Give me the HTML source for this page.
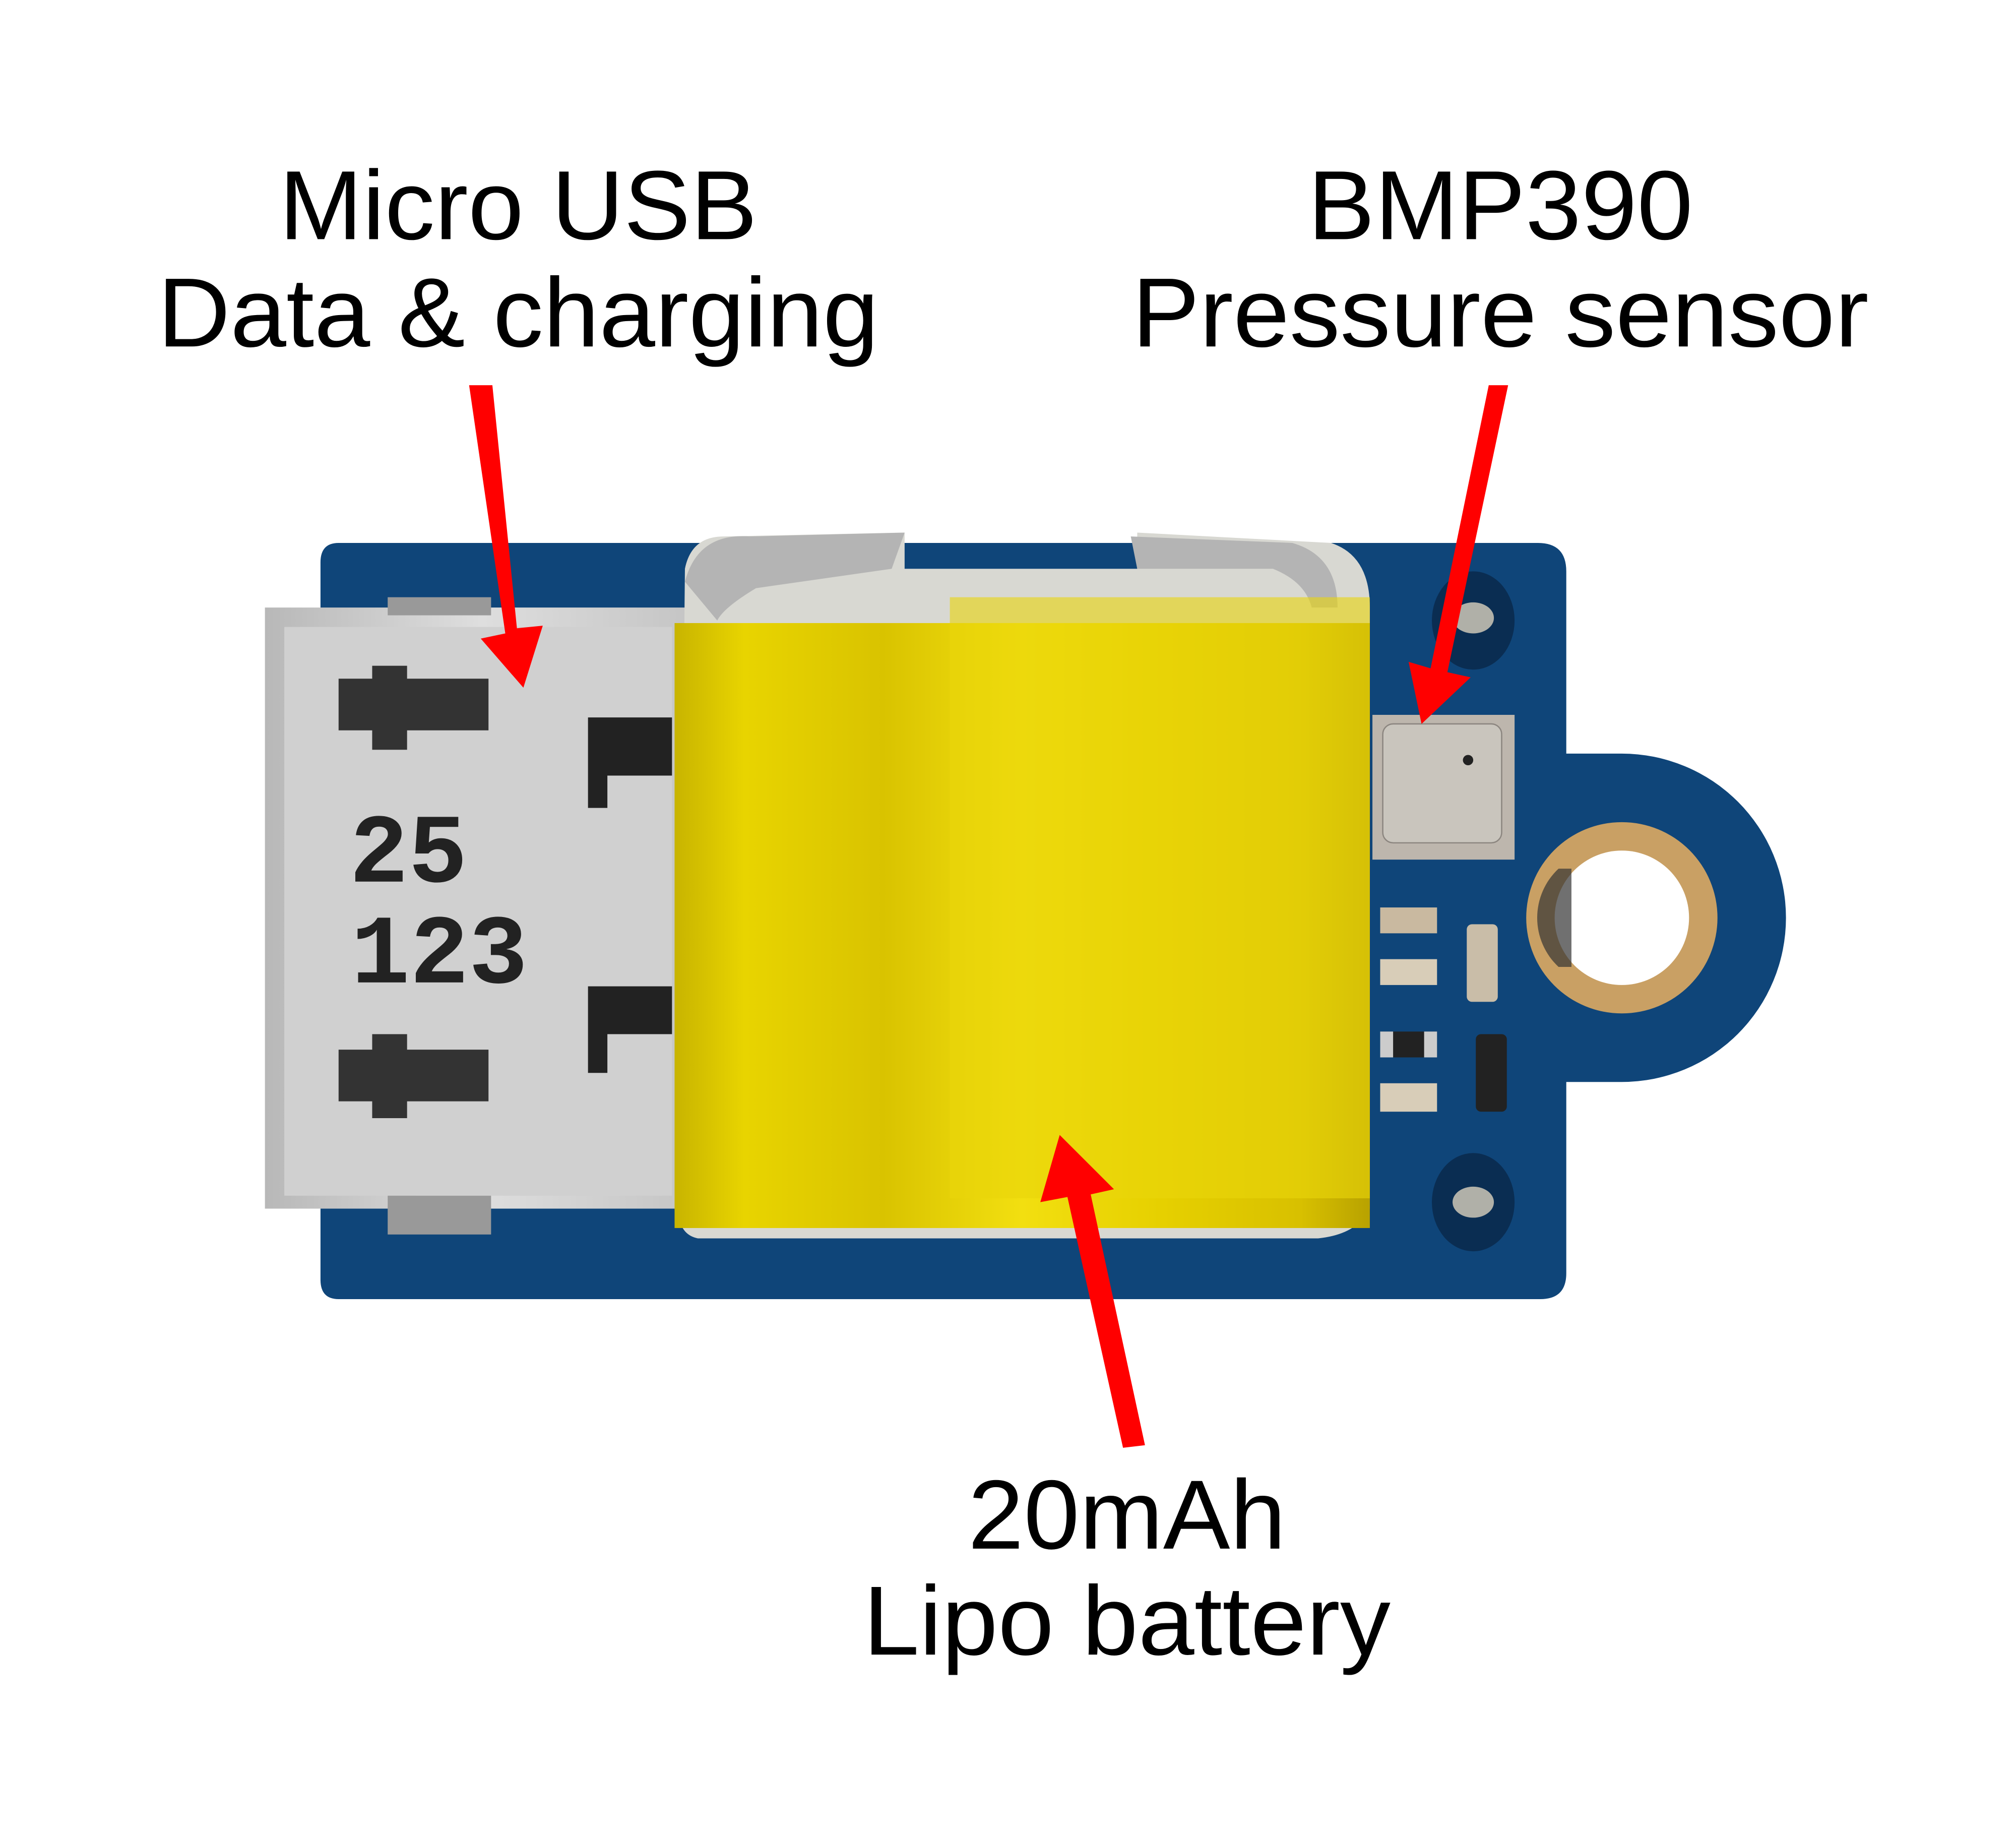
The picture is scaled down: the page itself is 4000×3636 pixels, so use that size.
<!DOCTYPE html>
<html><head><style>html,body{margin:0;padding:0;background:#fff}svg{display:block}</style></head>
<body>
<svg width="4000" height="3636" viewBox="0 0 1560 1418" xmlns="http://www.w3.org/2000/svg">
<defs>
<linearGradient id="bat" x1="0" x2="1" y1="0" y2="0">
<stop offset="0" stop-color="#c8b400"/><stop offset="0.1" stop-color="#e8d400"/><stop offset="0.3" stop-color="#d9c300"/><stop offset="0.5" stop-color="#f2df10"/><stop offset="0.7" stop-color="#e6d000"/><stop offset="0.9" stop-color="#d8c000"/><stop offset="1" stop-color="#b8a200"/>
</linearGradient>
<linearGradient id="usb" x1="0" x2="1"><stop offset="0" stop-color="#b8b8b8"/><stop offset="0.5" stop-color="#dedede"/><stop offset="1" stop-color="#c4c4c4"/></linearGradient>
</defs>
<rect width="1560" height="1418" fill="#fff"/>
<g font-family="Liberation Sans, sans-serif" font-size="76" fill="#000" text-anchor="middle">
<text x="401" y="185" textLength="370" lengthAdjust="spacingAndGlyphs">Micro USB</text>
<text x="401" y="268" textLength="558" lengthAdjust="spacingAndGlyphs">Data &amp; charging</text>
<text x="1161" y="185" textLength="298" lengthAdjust="spacingAndGlyphs">BMP390</text>
<text x="1161" y="268" textLength="570" lengthAdjust="spacingAndGlyphs">Pressure sensor</text>
<text x="872" y="1198" textLength="246" lengthAdjust="spacingAndGlyphs">20mAh</text>
<text x="872" y="1280" textLength="408" lengthAdjust="spacingAndGlyphs">Lipo battery</text>
</g>
<!-- PCB -->
<path d="M262 420 H1190 Q1212 420 1212 442 V583 H1255 A127 127 0 0 1 1255 837 H1212 V985 Q1212 1005 1192 1005 H262 Q248 1005 248 990 V435 Q248 420 262 420 Z" fill="#0f4579"/>
<circle cx="1255" cy="710" r="74" fill="#c9a064"/>
<circle cx="1255" cy="710" r="52" fill="#fff"/>
<path d="M1206 672 A52 52 0 0 0 1206 748 L1216 748 L1216 672 Z" fill="#333" opacity="0.7"/>
<ellipse cx="1140" cy="480" rx="32" ry="38" fill="#0a2d52"/><ellipse cx="1140" cy="478" rx="16" ry="12" fill="#b0b0a8"/>
<ellipse cx="1140" cy="930" rx="32" ry="38" fill="#0a2d52"/><ellipse cx="1140" cy="930" rx="16" ry="12" fill="#b0b0a8"/>
<rect x="1062" y="553" width="110" height="112" fill="#bdb6ad"/>
<rect x="1070" y="560" width="92" height="92" rx="8" fill="#c9c5bd" stroke="#8c8680"/>
<circle cx="1136" cy="588" r="4" fill="#222"/>
<rect x="1068" y="702" width="44" height="20" fill="#c9b9a0"/>
<rect x="1068" y="742" width="44" height="20" fill="#d8cdb8"/>
<rect x="1068" y="798" width="44" height="20" fill="#222"/><rect x="1068" y="798" width="10" height="20" fill="#ccc"/><rect x="1102" y="798" width="10" height="20" fill="#ccc"/>
<rect x="1068" y="838" width="44" height="22" fill="#d8cdb8"/>
<rect x="1135" y="715" width="24" height="60" rx="4" fill="#c9bda8"/>
<rect x="1142" y="800" width="24" height="60" rx="4" fill="#222"/>
<!-- USB -->
<path d="M205 470 L540 470 L540 935 L205 935 Z" fill="url(#usb)"/>
<rect x="220" y="485" width="300" height="440" fill="#d0d0d0"/>
<rect x="300" y="462" width="80" height="14" fill="#999"/>
<rect x="300" y="925" width="80" height="30" fill="#999"/>
<path d="M262 525 H378 V565 H262 Z M288 515 H315 V580 H288 Z" fill="#333"/>
<path d="M262 812 H378 V852 H262 Z M288 800 H315 V865 H288 Z" fill="#333"/>
<path d="M455 555 H520 V600 H470 V625 H455 Z" fill="#222"/>
<path d="M455 763 H520 V800 H470 V830 H455 Z" fill="#222"/>
<text x="316" y="682" font-family="Liberation Mono, monospace" font-size="76" font-weight="bold" fill="#222" text-anchor="middle">25</text>
<text x="340" y="760" font-family="Liberation Mono, monospace" font-size="76" font-weight="bold" fill="#222" text-anchor="middle">123</text>
<!-- battery -->
<path d="M530 440 Q535 415 560 415 L700 412 L700 440 L880 440 L880 412 L1030 420 Q1060 430 1060 470 L1060 935 Q1050 955 1020 958 L540 958 Q525 955 525 935 Z" fill="#d8d8d2"/>
<path d="M530 450 Q540 412 580 415 L700 412 L690 440 L585 455 Q560 470 555 480 Z" fill="#b4b4b4"/>
<path d="M875 415 L1000 420 Q1035 430 1035 470 L1015 470 Q1010 450 985 440 L880 440 Z" fill="#b4b4b4"/>
<rect x="522" y="482" width="538" height="468" fill="url(#bat)"/>
<rect x="735" y="462" width="325" height="465" fill="#e9d60a" opacity="0.6"/>
<!-- arrows -->
<g fill="#f00">
<path d="M363 298 L381 298 L400 486 L420 484 L405 532 L372 494 L391 490 Z"/>
<path d="M1152 298 L1167 298 L1120 520 L1138 524 L1100 560 L1090 512 L1107 517 Z"/>
<path d="M869 1120 L886 1118 L844 924 L862 920 L820 878 L805 930 L826 926 Z"/>
</g>
</svg>
</body></html>
